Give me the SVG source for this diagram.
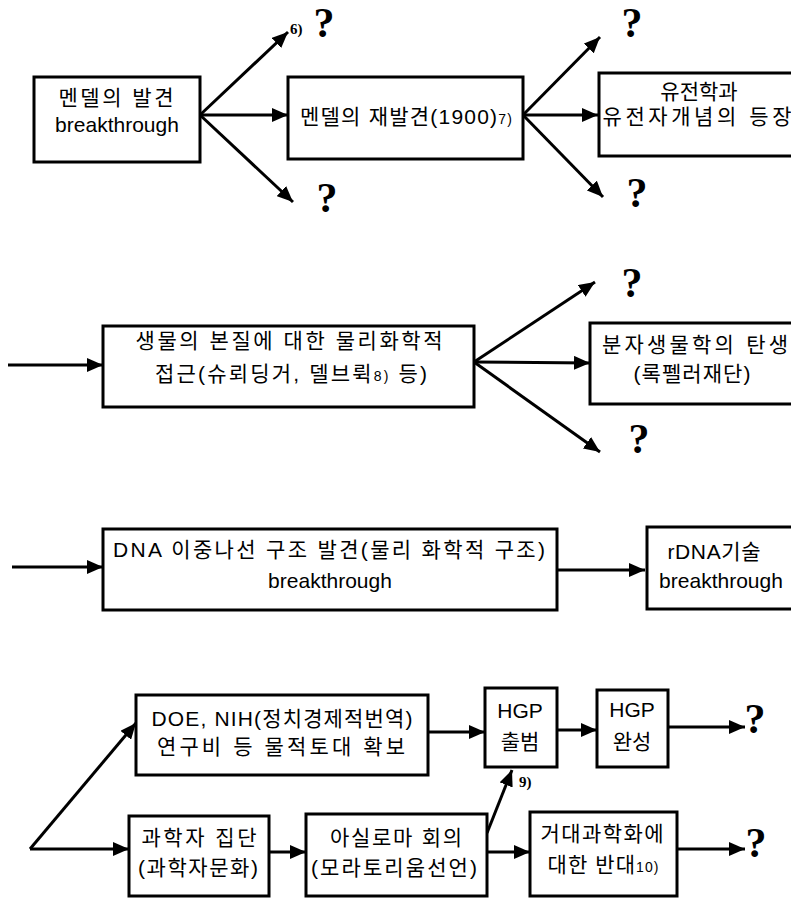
<svg xmlns="http://www.w3.org/2000/svg" width="791" height="899" viewBox="0 0 791 899">
<defs>
<marker id="ah" markerUnits="userSpaceOnUse" markerWidth="16" markerHeight="14" refX="16" refY="7" orient="auto">
<path d="M0,0 L16,7 L0,14 z" fill="#000"/>
</marker>
<style>
.box{fill:#fff;stroke:#000;stroke-width:3}
.t{font-family:"Liberation Sans","Noto Sans CJK KR",sans-serif;font-size:21px;fill:#000;text-anchor:middle}
.q{font-family:"Liberation Serif",serif;font-weight:bold;font-size:42px;fill:#000;text-anchor:middle}
.fn{font-family:"Liberation Serif",serif;font-weight:bold;font-size:15px;fill:#000}
.sm{font-size:14px}
.c{fill:none;stroke:#000;stroke-width:3;marker-end:url(#ah)}
</style>
</defs>
<rect width="791" height="899" fill="#fff"/>

<g id="connectors">
<path class="c" d="M200,115 L288,32"/>
<path class="c" d="M200,115 L288,115"/>
<path class="c" d="M200,115 L293,202"/>
<path class="c" d="M523,115 L600,37"/>
<path class="c" d="M523,115 L598,115"/>
<path class="c" d="M523,115 L603,197"/>
<path class="c" d="M8,365 L103,365"/>
<path class="c" d="M474,362 L595,282"/>
<path class="c" d="M474,362 L590,363"/>
<path class="c" d="M474,362 L600,452"/>
<path class="c" d="M12,567 L103,567"/>
<path class="c" d="M557,570 L645,570"/>
<path class="c" d="M30,849 L136,723"/>
<path class="c" d="M30,849 L129,849"/>
<path class="c" d="M269,852 L306,852"/>
<path class="c" d="M428,732 L485,732"/>
<path class="c" d="M557,730 L597,730"/>
<path class="c" d="M668,727 L745,727"/>
<path class="c" d="M487,833 L512,770"/>
<path class="c" d="M487,852 L530,852"/>
<path class="c" d="M677,849 L745,849"/>
</g>

<g id="n1"><rect class="box" x="34" y="77" width="166" height="85"/>
<text class="t" x="116" y="105" textLength="115" lengthAdjust="spacing">멘델의 발견</text>
<text class="t" x="117" y="132">breakthrough</text></g>

<g id="n2"><rect class="box" x="288" y="77" width="235" height="82"/>
<text class="t" x="406" y="124" textLength="212" lengthAdjust="spacing">멘델의 재발견(1900)<tspan class="sm">7)</tspan></text></g>

<g id="n3"><rect class="box" x="599" y="73" width="205" height="83"/>
<text class="t" x="699" y="99">유전학과</text>
<text class="t" x="697" y="124" textLength="189" lengthAdjust="spacing">유전자개념의 등장</text></g>

<g id="n4"><rect class="box" x="103" y="326" width="371" height="81"/>
<text class="t" x="289" y="348" textLength="307" lengthAdjust="spacing">생물의 본질에 대한 물리화학적</text>
<text class="t" x="291" y="381" textLength="272" lengthAdjust="spacing">접근(슈뢰딩거, 델브뤽<tspan class="sm">8)</tspan> 등)</text></g>

<g id="n5"><rect class="box" x="590" y="323" width="210" height="81"/>
<text class="t" x="695" y="352" textLength="186" lengthAdjust="spacing">분자생물학의 탄생</text>
<text class="t" x="692" y="381" textLength="117" lengthAdjust="spacing">(록펠러재단)</text></g>

<g id="n6"><rect class="box" x="103" y="529" width="454" height="81"/>
<text class="t" x="329" y="557" textLength="432" lengthAdjust="spacing">DNA 이중나선 구조 발견(물리 화학적 구조)</text>
<text class="t" x="330" y="588">breakthrough</text></g>

<g id="n7"><rect class="box" x="647" y="527" width="150" height="82"/>
<text class="t" x="714" y="559" textLength="93" lengthAdjust="spacing">rDNA기술</text>
<text class="t" x="721" y="588">breakthrough</text></g>

<g id="n8"><rect class="box" x="136" y="695" width="292" height="80"/>
<text class="t" x="282" y="726" textLength="261" lengthAdjust="spacing">DOE, NIH(정치경제적번역)</text>
<text class="t" x="281" y="754" textLength="248" lengthAdjust="spacing">연구비 등 물적토대 확보</text></g>

<g id="n9"><rect class="box" x="485" y="688" width="72" height="79"/>
<text class="t" x="520" y="718">HGP</text>
<text class="t" x="520" y="749">출범</text></g>

<g id="n10"><rect class="box" x="597" y="690" width="71" height="77"/>
<text class="t" x="632" y="717">HGP</text>
<text class="t" x="632" y="749">완성</text></g>

<g id="n11"><rect class="box" x="129" y="816" width="140" height="80"/>
<text class="t" x="199" y="845" textLength="115" lengthAdjust="spacing">과학자 집단</text>
<text class="t" x="198" y="875" textLength="120" lengthAdjust="spacing">(과학자문화)</text></g>

<g id="n12"><rect class="box" x="306" y="814" width="181" height="82"/>
<text class="t" x="396" y="845" textLength="132" lengthAdjust="spacing">아실로마 회의</text>
<text class="t" x="394" y="875" textLength="166" lengthAdjust="spacing">(모라토리움선언)</text></g>

<g id="n13"><rect class="box" x="530" y="812" width="147" height="84"/>
<text class="t" x="602" y="841" textLength="123" lengthAdjust="spacing">거대과학화에</text>
<text class="t" x="603" y="872" textLength="111" lengthAdjust="spacing">대한 반대<tspan class="sm">10)</tspan></text></g>

<g id="marks">
<text class="q" x="324" y="37">?</text>
<text class="q" x="327" y="212">?</text>
<text class="q" x="632" y="37">?</text>
<text class="q" x="637" y="207">?</text>
<text class="q" x="632" y="297">?</text>
<text class="q" x="639" y="453">?</text>
<text class="q" x="755" y="733">?</text>
<text class="q" x="756" y="857">?</text>
<text class="fn" x="290" y="34">6)</text>
<text class="fn" x="519" y="787">9)</text>
</g>
</svg>
